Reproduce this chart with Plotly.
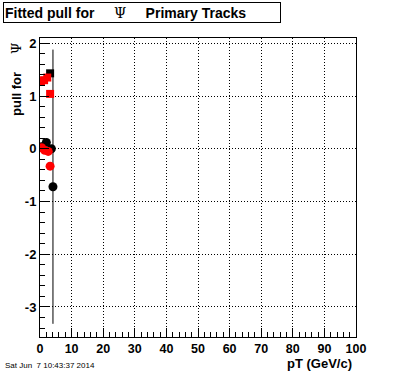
import plotly.graph_objects as go

# Data
bc_x = [0.6, 2.0, 3.6, 4.1]
bc_y = [0.04, 0.12, 0.0, -0.72]
bc_err = [0.0, 0.0, 0.0, 2.6]

bs_x = [3.2]
bs_y = [1.43]

rs_x = [0.3, 1.3, 2.3, 3.2]
rs_y = [1.28, 1.30, 1.35, 1.04]

rc_x = [0.5, 1.5, 2.6, 3.2]
rc_y = [0.02, -0.03, -0.05, -0.33]

x_ticks = [0, 10, 20, 30, 40, 50, 60, 70, 80, 90, 100]
y_ticks = [-3, -2, -1, 0, 1, 2]
y_labels = ["-3", "-2", "-1", "0", "1", "2"]

fig = go.Figure()
fig.add_trace(go.Scatter(x=bc_x, y=bc_y, mode="markers",
                         marker=dict(symbol="circle", size=9, color="black"),
                         error_y=dict(type="data", array=bc_err, visible=True,
                                      color="black", thickness=1, width=0)))
fig.add_trace(go.Scatter(x=bs_x, y=bs_y, mode="markers",
                         marker=dict(symbol="square", size=8, color="black")))
fig.add_trace(go.Scatter(x=rs_x, y=rs_y, mode="markers",
                         marker=dict(symbol="square", size=8, color="#ff0000")))
fig.add_trace(go.Scatter(x=rc_x, y=rc_y, mode="markers",
                         marker=dict(symbol="circle", size=9, color="#ff0000")))

xtickfont = dict(family="Liberation Sans", size=12.5, color="black", weight="bold")
ytickfont = dict(family="Liberation Sans", size=13, color="black", weight="bold")
fig.update_xaxes(range=[0, 100], tickvals=x_ticks, ticks="inside", ticklen=9,
                 tickcolor="black", showline=True, linecolor="black", linewidth=1,
                 mirror=True, showgrid=True, gridcolor="black", griddash="1px,2px",
                 gridwidth=1, zeroline=False, tickfont=xtickfont, automargin=False,
                 minor=dict(dtick=2, ticks="inside", ticklen=5, tickcolor="black",
                            showgrid=False))
fig.update_yaxes(range=[-3.57, 2.1], tickvals=y_ticks, ticktext=y_labels,
                 ticks="inside", ticklen=9, tickcolor="black", showline=True,
                 linecolor="black", linewidth=1, mirror=True, showgrid=True,
                 gridcolor="black", griddash="1px,2px", gridwidth=1, zeroline=False,
                 tickfont=ytickfont, automargin=False,
                 minor=dict(dtick=0.2, ticks="inside", ticklen=5, tickcolor="black",
                            showgrid=False))

psi = "<span style='font-family:DejaVu Serif;font-weight:normal'>Ψ</span>"
fig.update_layout(
    width=396, height=372, showlegend=False,
    margin=dict(l=40, r=40, t=38, b=35),
    paper_bgcolor="white", plot_bgcolor="white",
    annotations=[
        dict(text="Fitted pull for" + "&nbsp;" * 5 + psi + "&nbsp;" * 5 + "Primary Tracks",
             xref="paper", yref="paper", x=(3 - 40) / 316, y=(372 - 35 - 2) / 299,
             xanchor="left", yanchor="top", showarrow=False, align="left",
             width=274, height=17, bordercolor="black", borderwidth=1,
             borderpad=1, bgcolor="white",
             font=dict(family="Liberation Sans", size=14, color="black", weight="bold")),
        dict(text="pull for" + "&nbsp;" * 5 + psi,
             xref="paper", yref="paper", x=(16 - 40) / 316, y=(337 - 40) / 299,
             xanchor="center", yanchor="top", textangle=-90, showarrow=False,
             font=dict(family="Liberation Sans", size=13, color="black", weight="bold")),
        dict(text="pT (GeV/c)", xref="paper", yref="paper",
             x=(353 - 40) / 316, y=-(372 - 337) / 299, xanchor="right", yanchor="bottom",
             showarrow=False, borderpad=0,
             font=dict(family="Liberation Sans", size=13, color="black", weight="bold")),
        dict(text="Sat Jun  7 10:43:37 2014", xref="paper", yref="paper",
             x=(3 - 40) / 316, y=-(365 - 337) / 299, xanchor="left", yanchor="middle",
             showarrow=False,
             font=dict(family="Liberation Sans", size=8, color="black")),
    ],
)

fig.write_html("out.html", config={"displayModeBar": False},
               post_script="document.body.style.margin='0px';")
